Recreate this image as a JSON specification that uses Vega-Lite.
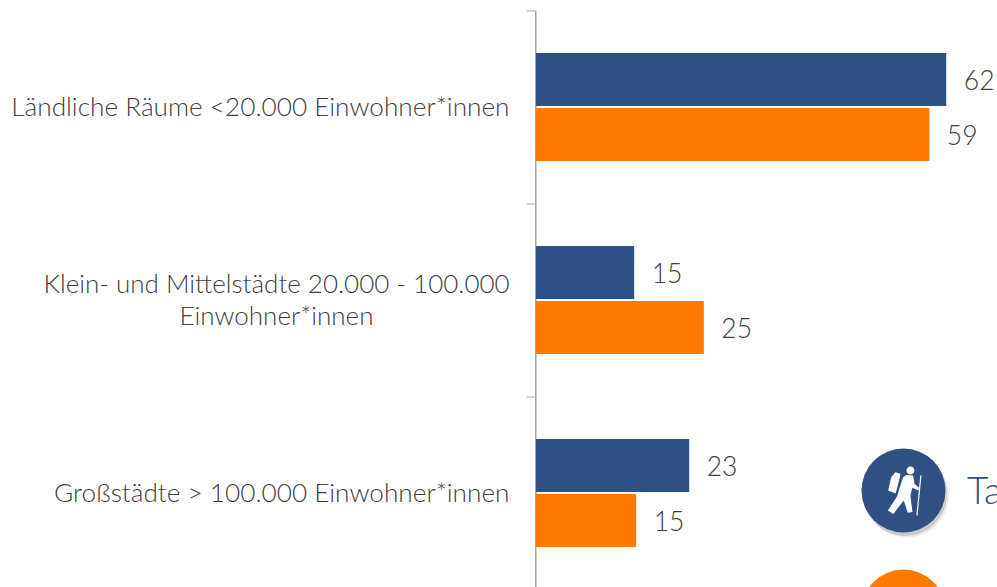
{"$schema":"https://vega.github.io/schema/vega-lite/v6.json","width":461,"height":579,"autosize":{"type":"none"},"padding":{"left":536,"top":10.5,"right":0,"bottom":0},"background":"white","config":{"view":{"stroke":null},"font":"Lato"},"datasets":{"bars":[{"category":"Ländliche Räume <20.000 Einwohner*innen","series":"Serie 1","value":61.85},{"category":"Ländliche Räume <20.000 Einwohner*innen","series":"Serie 2","value":59.3},{"category":"Klein- und Mittelstädte 20.000 - 100.000 Einwohner*innen","series":"Serie 1","value":14.8},{"category":"Klein- und Mittelstädte 20.000 - 100.000 Einwohner*innen","series":"Serie 2","value":25.3},{"category":"Großstädte > 100.000 Einwohner*innen","series":"Serie 1","value":23.1},{"category":"Großstädte > 100.000 Einwohner*innen","series":"Serie 2","value":15.1}],"catOne":[{"category":"Ländliche Räume <20.000 Einwohner*innen","label":"Ländliche Räume <20.000 Einwohner*innen","value":0},{"category":"Großstädte > 100.000 Einwohner*innen","label":"Großstädte > 100.000 Einwohner*innen","value":0}],"catTwo":[{"category":"Klein- und Mittelstädte 20.000 - 100.000 Einwohner*innen","label":"Klein- und Mittelstädte 20.000 - 100.000|Einwohner*innen","value":0}],"legend":[{"category":"Großstädte > 100.000 Einwohner*innen","series":"Serie 1","value":55.4,"name":"Ta"}]},"encoding":{"y":{"field":"category","type":"nominal","sort":null,"scale":{"paddingInner":0,"paddingOuter":0,"domain":["Ländliche Räume <20.000 Einwohner*innen","Klein- und Mittelstädte 20.000 - 100.000 Einwohner*innen","Großstädte > 100.000 Einwohner*innen"]},"axis":{"title":null,"labels":false,"offset":0.75,"domainColor":"#a6a6a6","domainWidth":1.5,"tickColor":"#a6a6a6","tickSize":9,"tickWidth":1,"tickBand":"extent"}},"x":{"field":"value","type":"quantitative","scale":{"domain":[0,69.5],"nice":false,"zero":true},"axis":null}},"layer":[{"data":{"name":"bars"},"mark":{"type":"bar"},"encoding":{"yOffset":{"field":"series","type":"nominal","scale":{"paddingInner":0.036,"paddingOuter":0.7727}},"color":{"field":"series","type":"nominal","legend":null,"scale":{"domain":["Serie 1","Serie 2"],"range":["#2f5083","#ff7a03"]}}}},{"data":{"name":"bars"},"mark":{"type":"text","align":"left","dx":17.5,"dy":2.5,"fontSize":26.5,"font":"Lato","fontWeight":300,"color":"#404040"},"encoding":{"yOffset":{"field":"series","type":"nominal","scale":{"paddingInner":0.036,"paddingOuter":0.7727}},"text":{"field":"value","type":"quantitative","format":".0f"}}},{"data":{"name":"catOne"},"mark":{"type":"text","align":"right","dx":-26.5,"dy":1,"fontSize":26.2,"font":"Lato","fontWeight":300,"color":"#404040"},"encoding":{"text":{"field":"label"}}},{"data":{"name":"catTwo"},"mark":{"type":"text","align":"center","dx":-259.5,"dy":-15,"lineBreak":"|","lineHeight":32,"fontSize":26,"font":"Lato","fontWeight":300,"color":"#404040"},"encoding":{"text":{"field":"label"}}},{"data":{"name":"legend"},"mark":{"type":"point","shape":"circle","filled":true,"size":7056,"color":"#555555","opacity":0.12,"xOffset":3.5,"yOffset":2.5}},{"data":{"name":"legend"},"mark":{"type":"point","shape":"circle","filled":true,"size":7056,"color":"#555555","opacity":0.22,"xOffset":1.5,"yOffset":1}},{"data":{"name":"legend"},"mark":{"type":"point","shape":"circle","filled":true,"size":7056,"color":"#2f5083","opacity":1,"yOffset":-2.5}},{"data":{"name":"legend"},"mark":{"type":"point","shape":"M0.1,-0.667a0.133,0.133 0 1,0 0.266,0a0.133,0.133 0 1,0 -0.266,0ZM-0.51,0L-0.41,-0.44L-0.27,-0.61L-0.1,-0.56L-0.13,-0.4L-0.26,0.1ZM0.1,-0.52L0.32,-0.5L0.37,-0.22L0.52,-0.09L0.5,0L0.3,-0.09L0.23,0.17L0.3,0.72L0.14,0.74L0.01,0.33L-0.34,0.78L-0.52,0.67L-0.21,0.19L-0.14,-0.06L-0.01,-0.44ZM0.56,-0.5L0.6,-0.5L0.47,0.83L0.43,0.83Z","filled":true,"size":3600,"color":"white","opacity":1,"yOffset":-2.5}},{"data":{"name":"legend"},"mark":{"type":"text","align":"left","dx":63.5,"dy":0,"fontSize":37,"font":"Lato","fontWeight":300,"color":"#2f5083"},"encoding":{"text":{"field":"name"}}},{"data":{"name":"legend"},"mark":{"type":"point","shape":"circle","filled":true,"size":7056,"color":"#ff7a03","opacity":1,"yOffset":118.5}}]}
